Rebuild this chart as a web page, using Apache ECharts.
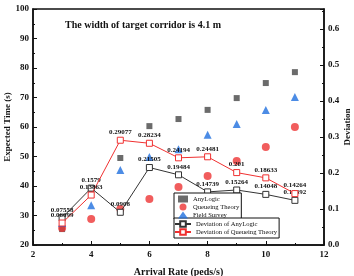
<!DOCTYPE html>
<html><head><meta charset="utf-8">
<script src="https://cdn.jsdelivr.net/npm/echarts@6/dist/echarts.min.js"></script>
<style>html,body{margin:0;padding:0;background:#fff}#c{width:354px;height:276px}</style>
</head><body><div id="c"></div>
<script>
var rates = [3, 4, 5, 6, 7, 8, 9, 10, 11];
var anyLogic = [25.4, 38.8, 49.5, 60.3, 62.7, 65.8, 69.8, 74.9, 78.6];
var queueing = [25.8, 28.8, 32.2, 35.6, 39.7, 43.4, 48.5, 53.2, 60.0];
var fieldSurvey = [27.5, 33.5, 45.4, 49.8, 52.5, 57.4, 61.0, 65.8, 70.2];
var devAnyLogic = [0.07558, 0.1579, 0.0908, 0.21505, 0.19484, 0.14739, 0.15264, 0.14048, 0.12392];
var devQueueing = [0.06099, 0.13863, 0.29077, 0.28234, 0.24194, 0.24481, 0.201, 0.18633, 0.14264];
var devAnyLogicLabels = ['0.07558','0.1579','0.0908','0.21505','0.19484','0.14739','0.15264','0.14048','0.12392'];
var devQueueingLabels = ['0.06099','0.13863','0.29077','0.28234','0.24194','0.24481','0.201','0.18633','0.14264'];
var titleText = 'The width of target corridor is 4.1 m';

function pairs(xs, ys){ return xs.map(function(x,i){return [x, ys[i]];}); }
var F = 'Liberation Serif, Times New Roman, serif';
var chart = echarts.init(document.getElementById('c'), null, {renderer:'canvas'});
var lblA = {show:true, position:'top', distance:1, fontFamily:F, fontWeight:'bold', fontSize:7, color:'#111',
  formatter:function(p){return devAnyLogicLabels[p.dataIndex];}};
var lblQ = {show:true, position:'top', distance:1, fontFamily:F, fontWeight:'bold', fontSize:7, color:'#111',
  formatter:function(p){return devQueueingLabels[p.dataIndex];}};
var nameStyle = {fontFamily:F, fontWeight:'bold', fontSize:9, color:'#111'};
chart.setOption({
  animation:false,
  title:{text:titleText, left:60, top:15, textStyle:{fontFamily:F, fontWeight:'bold', fontSize:10, color:'#111'}},
  grid:{left:33, right:30, top:9, bottom:31, outerBoundsMode:'none', containLabel:false,
    show:true, borderColor:'#111', borderWidth:1.5, backgroundColor:'transparent'},
  legend:[{
    data:['AnyLogic','Queueing Theory','Field Survey'],
    left:174, top:193, orient:'vertical', itemGap:0, itemWidth:10, itemHeight:7,
    borderColor:'#111', borderWidth:1, padding:[2,2,0,4], backgroundColor:'#fff',
    textStyle:{fontFamily:F, fontSize:6.6, lineHeight:8, color:'#111'}
  },{
    data:['Deviation of AnyLogic','Deviation of Queueing Theory'],
    left:174, top:218, orient:'vertical', itemGap:0, itemWidth:16, itemHeight:7,
    borderColor:'#111', borderWidth:1, padding:[2,2,2,0], backgroundColor:'#fff',
    textStyle:{fontFamily:F, fontSize:6.6, lineHeight:8, color:'#111'}
  }],
  xAxis:{type:'value', min:2, max:12, interval:2,
    name:'Arrival Rate (peds/s)', nameLocation:'middle', nameGap:22, nameMoveOverlap:false,
    nameTextStyle:{fontFamily:F, fontWeight:'bold', fontSize:10, color:'#111'},
    axisLine:{lineStyle:{color:'#111', width:1.5}},
    axisTick:{inside:true, length:4, lineStyle:{color:'#111'}},
    minorTick:{show:true, splitNumber:2, length:2, lineStyle:{color:'#111'}},
    splitLine:{show:false},
    axisLabel:{fontFamily:F, fontWeight:'bold', fontSize:9, color:'#111', margin:5}
  },
  yAxis:[{type:'value', min:20, max:100, interval:10,
    name:'Expected Time (s)', nameLocation:'middle', nameGap:21, nameRotate:90, nameMoveOverlap:false,
    nameTextStyle:nameStyle,
    axisLine:{show:true, lineStyle:{color:'#111', width:1.5}},
    axisTick:{inside:true, length:4, lineStyle:{color:'#111'}},
    minorTick:{show:true, splitNumber:2, length:2, lineStyle:{color:'#111'}},
    splitLine:{show:false},
    axisLabel:{fontFamily:F, fontWeight:'bold', fontSize:9, color:'#111', margin:4}
  },{type:'value', min:0, max:0.655, interval:0.1, position:'right',
    name:'Deviation', nameLocation:'middle', nameGap:19, nameRotate:90, nameMoveOverlap:false,
    nameTextStyle:nameStyle,
    axisLine:{show:true, lineStyle:{color:'#111', width:1.5}},
    axisTick:{inside:true, length:4, lineStyle:{color:'#111'}},
    minorTick:{show:true, splitNumber:2, length:2, lineStyle:{color:'#111'}},
    splitLine:{show:false},
    axisLabel:{fontFamily:F, fontWeight:'bold', fontSize:9, color:'#111', margin:4, showMaxLabel:false,
      formatter:function(v){ return (Math.abs(v*10 - Math.round(v*10))<1e-6) ? v.toFixed(1) : ''; }}
  }],
  series:[
    {name:'AnyLogic', type:'scatter', yAxisIndex:0, symbol:'rect', symbolSize:6,
      itemStyle:{color:'#464646'}, data:pairs(rates, anyLogic), z:2},
    {name:'Queueing Theory', type:'scatter', yAxisIndex:0, symbol:'circle', symbolSize:8,
      itemStyle:{color:'#ee3434'}, data:pairs(rates, queueing), z:2},
    {name:'Field Survey', type:'scatter', yAxisIndex:0, symbol:'triangle', symbolSize:8,
      itemStyle:{color:'#1f6fdf'}, data:pairs(rates, fieldSurvey), z:2},
    {name:'Deviation of AnyLogic', type:'line', yAxisIndex:1, symbol:'rect', symbolSize:6,
      lineStyle:{color:'#333', width:1}, itemStyle:{color:'#fff', borderColor:'#333', borderWidth:1},
      label:lblA, data:pairs(rates, devAnyLogic), z:3},
    {name:'Deviation of Queueing Theory', type:'line', yAxisIndex:1, symbol:'rect', symbolSize:6,
      lineStyle:{color:'#f03030', width:1}, itemStyle:{color:'#fff', borderColor:'#f03030', borderWidth:1},
      label:lblQ, data:pairs(rates, devQueueing), z:4}
  ]
});
</script></body></html>
